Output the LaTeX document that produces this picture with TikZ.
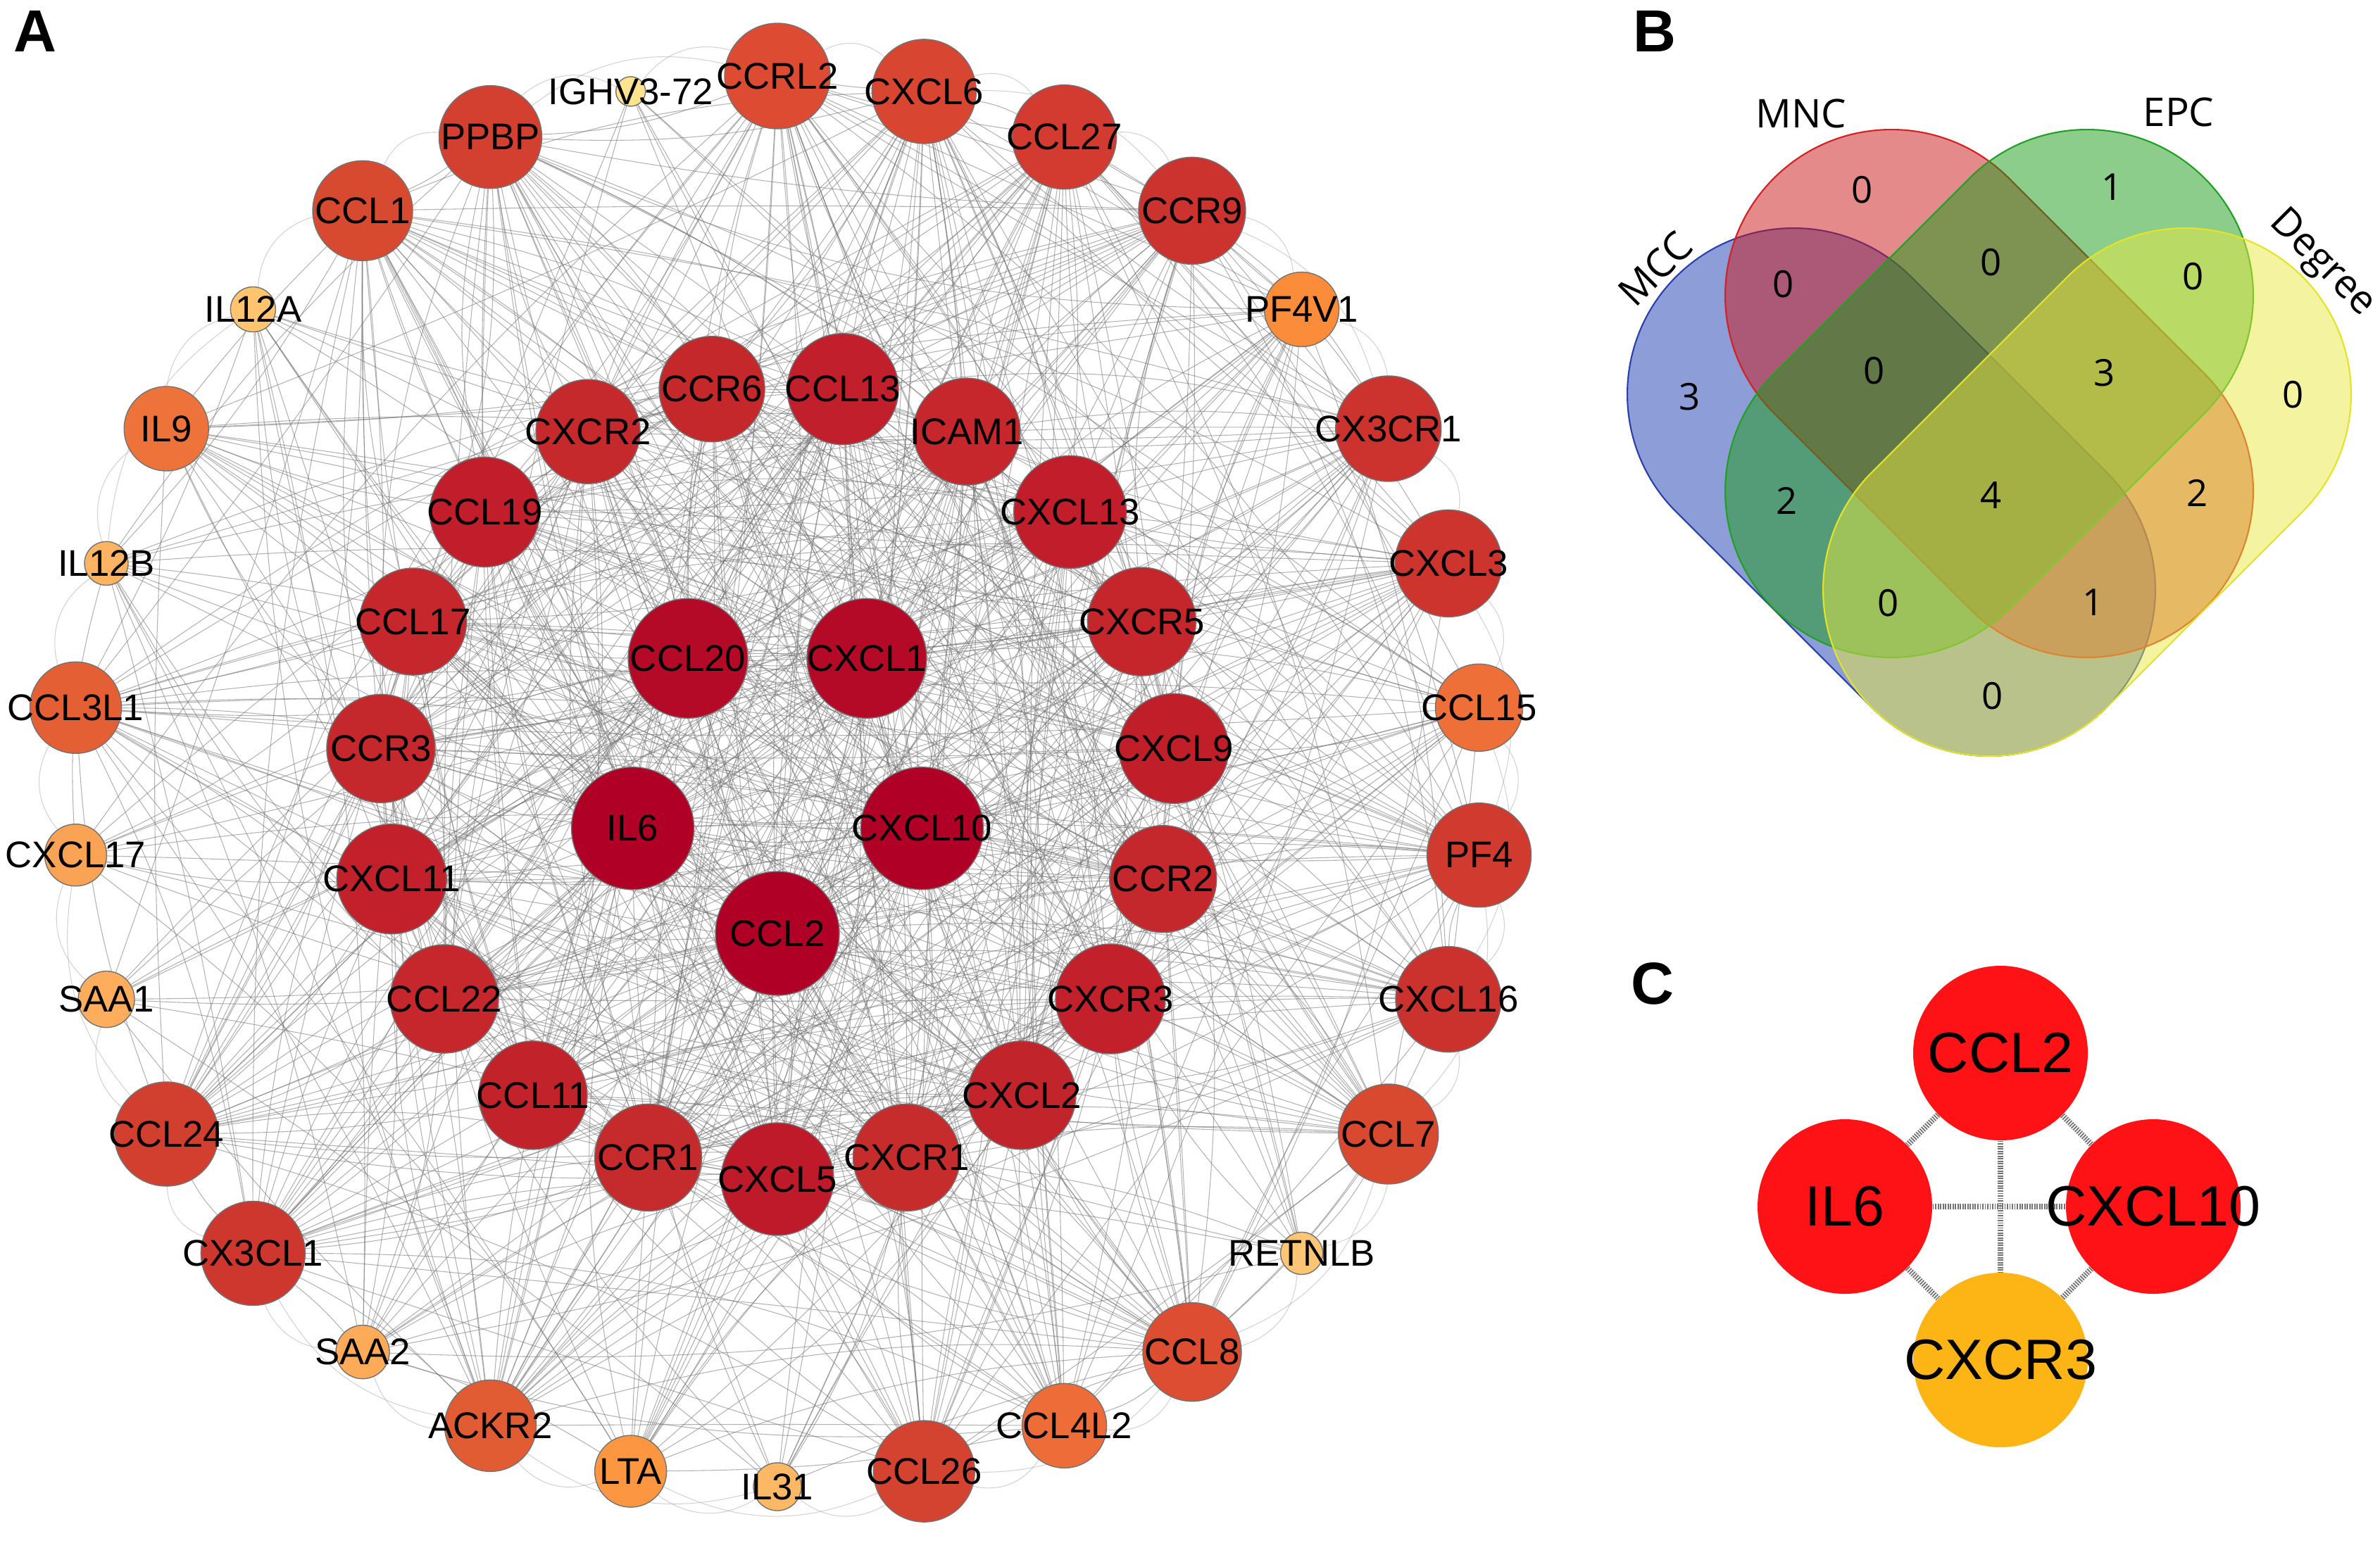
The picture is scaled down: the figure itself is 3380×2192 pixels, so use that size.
\documentclass[tikz,border=0pt]{standalone}
\usepackage{fontspec}
\setmainfont{Liberation Sans}
\newfontfamily\vennfont{Open Sans}
\usetikzlibrary{backgrounds}

\newcommand{\ncx}{1104}
\newcommand{\ncy}{1110}

\definecolor{mccfill}{HTML}{1A3CAF}
\definecolor{mncfill}{HTML}{CA1616}
\definecolor{epcfill}{HTML}{1A9B1A}
\definecolor{degfill}{HTML}{E8E842}
\definecolor{mccline}{HTML}{2A3FAF}
\definecolor{mncline}{HTML}{D42020}
\definecolor{epcline}{HTML}{20A020}
\definecolor{degline}{HTML}{E4E424}
\definecolor{hubred}{HTML}{FF1216}
\definecolor{hubgold}{HTML}{FDB515}

\tikzset{
  gene/.style={circle, draw=black!55, line width=0.4pt, inner sep=0pt, outer sep=0pt},
  genelabel/.style={font=\fontsize{15}{15}\selectfont, inner sep=0pt},
  ppi/.style={draw=black!55, line width=0.3pt, opacity=0.55},
  ppiarc/.style={draw=black!35, line width=0.3pt, opacity=0.5},
  panel/.style={font=\fontsize{24}{24}\selectfont\bfseries},
  venn/.style={rectangle, minimum width=86.5mm, minimum height=47.2mm, rounded corners=23.6mm, line width=0.6pt, fill opacity=0.5},
  vennnum/.style={font=\vennfont\fontsize{15}{15}\selectfont},
  vennset/.style={font=\vennfont\fontsize{16}{16}\selectfont},
  hub/.style={circle, minimum size=24.8mm, inner sep=0pt},
  hublabel/.style={font=\fontsize{23}{23}\selectfont, inner sep=0pt},
  hubedge/.style={draw=black!55, line width=2.4pt, dash pattern=on 0.5pt off 0.5pt},
}

\begin{document}
\begin{tikzpicture}[x=0.1mm, y=-0.1mm]
  \useasboundingbox (0,0) rectangle (3380,2192);
  \pgfmathsetseed{1234}

  % A: PPI network
  \node[panel] (pa) at (50,44) {A};

  \foreach \i/\gene/\a/\r/\hex in {1/CCL20/126/85/B40A28, 2/CXCL1/54/85/B40A28,
      3/CXCL10/-18/87/B00025, 4/CCL2/-90/88/B00025, 5/IL6/198/87/B00025} {
    \definecolor{genefill}{HTML}{\hex}
    \node[gene, fill=genefill, minimum size={0.2mm*\r}, label={[genelabel]center:\gene}]
      (g\i) at ({\ncx+216*cos(\a)}, {\ncy-216*sin(\a)}) {};
    \expandafter\xdef\csname gw\i\endcsname{1}
  }

  \foreach[evaluate={99.47-18.947*\k} as \a, evaluate={int(6+\k)} as \idx]
      \k/\gene/\r/\hex in {0/CCR6/75/C4282B, 1/CCL13/79/C21F2C, 2/ICAM1/76/C5272C,
      3/CXCL13/80/C21D2A, 4/CXCR5/77/C5262B, 5/CXCL9/78/C01F2A, 6/CCR2/76/C5282C,
      7/CXCR3/78/C2202B, 8/CXCL2/77/C2242B, 9/CXCR1/76/C72C2C, 10/CXCL5/80/BE1A29,
      11/CCR1/76/C52A2C, 12/CCL11/77/C2232B, 13/CCL22/77/C5272C, 14/CXCL11/78/C2212B,
      15/CCR3/77/C5282C, 16/CCL17/76/C5272C, 17/CCL19/78/C21D2A, 18/CXCR2/74/C6292C} {
    \definecolor{genefill}{HTML}{\hex}
    \node[gene, fill=genefill, minimum size={0.2mm*\r}, label={[genelabel]center:\gene}]
      (g\idx) at ({\ncx+565*cos(\a)}, {\ncy-565*sin(\a)}) {};
    \expandafter\xdef\csname gw\idx\endcsname{0.97}
  }

  \foreach[evaluate={90-12*\k} as \a, evaluate={int(25+\k)} as \idx]
      \k/\gene/\r/\hex/\w in {0/CCRL2/75/DD4B33/0.85, 1/CXCL6/74/D84530/0.85,
      2/CCL27/74/D33A30/0.85, 3/CCR9/76/CC332E/0.85, 4/PF4V1/53/FB8C3A/0.55,
      5/CX3CR1/75/CC332E/0.85, 6/CXCL3/76/CD342E/0.85, 7/CCL15/62/EE6F37/0.62,
      8/PF4/74/D03A2F/0.85, 9/CXCL16/75/CB322E/0.85, 10/CCL7/71/D84930/0.8,
      11/RETNLB/30/FDC574/0.3, 12/CCL8/70/DC4D32/0.8, 13/CCL4L2/60/EE6C38/0.62,
      14/CCL26/72/D4432F/0.8, 15/IL31/34/FDB865/0.35, 16/LTA/51/FD9640/0.5,
      17/ACKR2/65/E15B33/0.68, 18/SAA2/38/FDAB59/0.4, 19/CX3CL1/74/CE372E/0.85,
      20/CCL24/74/D23F2F/0.85, 21/SAA1/40/FDAD5B/0.4, 22/CXCL17/44/FBA354/0.45,
      23/CCL3L1/65/E45F33/0.68, 24/IL12B/31/FDB462/0.35, 25/IL9/60/EE733A/0.62,
      26/IL12A/32/FEC46E/0.3, 27/CCL1/71/D84A30/0.8, 28/PPBP/73/D34030/0.85,
      29/IGHV3-72/21/FFE38F/0.15} {
    \definecolor{genefill}{HTML}{\hex}
    \node[gene, fill=genefill, minimum size={0.2mm*\r}, label={[genelabel]center:\gene}]
      (g\idx) at ({\ncx+1002*cos(\a)}, {\ncy-1002*sin(\a)}) {};
    \expandafter\xdef\csname gw\idx\endcsname{\w}
  }

  \begin{scope}[on background layer]
    \foreach \i in {1,...,53} {
      \pgfmathtruncatemacro\jst{\i+1}
      \edef\wi{\csname gw\i\endcsname}
      \foreach \j in {\jst,...,54} {
        \edef\wj{\csname gw\j\endcsname}
        \pgfmathsetmacro\p{\wi*\wj}
        \pgfmathsetmacro\u{rnd}
        \pgfmathsetmacro\bnd{12*rand}
        \ifdim\u pt<\p pt \draw[ppi] (g\i) to[bend left=\bnd] (g\j); \fi
      }
    }
    % arcs along the outer ring
    \foreach[evaluate={int(25+\k)} as \ia, evaluate={int(25+mod(\k+1,30))} as \ib,
        evaluate={int(25+mod(\k+2,30))} as \ic] \k in {0,...,29} {
      \draw[ppiarc] (g\ia) to[bend left=35] (g\ib);
      \edef\wi{\csname gw\ia\endcsname}
      \edef\wj{\csname gw\ic\endcsname}
      \pgfmathsetmacro\p{\wi*\wj}
      \pgfmathsetmacro\u{rnd}
      \ifdim\u pt<\p pt \draw[ppiarc] (g\ia) to[bend left=25] (g\ic); \fi
    }
  \end{scope}

  % B: Venn diagram
  \node[panel] (pb) at (2350,44) {B};
  \node[venn, draw=mccline, fill=mccfill, rotate=-45] (mcc) at (2686,699) {};
  \node[venn, draw=mncline, fill=mncfill, rotate=-45] (mnc) at (2825,559) {};
  \node[venn, draw=epcline, fill=epcfill, rotate=45] (epc) at (2825,559) {};
  \node[venn, draw=degline, fill=degfill, rotate=45] (deg) at (2964,699) {};

  \node[vennset, rotate=45] (lmcc) at (2351,382) {MCC};
  \node[vennset] (lmnc) at (2558,161) {MNC};
  \node[vennset] (lepc) at (3094,159) {EPC};
  \node[vennset, rotate=-45] (ldeg) at (3297,375) {Degree};

  \foreach \x/\y/\n in {2645/270/0, 3000/266/1, 2533/404/0, 2828/373/0, 3115/393/0,
      2400/564/3, 2662/527/0, 2989/530/3, 3257/561/0, 2538/711/2, 2828/704/4,
      3121/700/2, 2682/857/0, 2973/856/1, 2830/989/0}
    \node[vennnum] at (\x,\y) {\n};

  % C: hub genes
  \node[panel] (pc) at (2347,1397) {C};
  \node[hub, fill=hubred, label={[hublabel]center:CCL2}] (hccl2) at (2841,1496) {};
  \node[hub, fill=hubred, label={[hublabel]center:IL6}] (hil6) at (2620,1714) {};
  \node[hub, fill=hubred, label={[hublabel]center:CXCL10}] (hcxcl10) at (3058,1714) {};
  \node[hub, fill=hubgold, label={[hublabel]center:CXCR3}] (hcxcr3) at (2841,1932) {};
  \begin{scope}[on background layer]
    \draw[hubedge] (hccl2) -- (hil6);
    \draw[hubedge] (hccl2) -- (hcxcl10);
    \draw[hubedge] (hccl2) -- (hcxcr3);
    \draw[hubedge] (hil6) -- (hcxcl10);
    \draw[hubedge] (hil6) -- (hcxcr3);
    \draw[hubedge] (hcxcl10) -- (hcxcr3);
  \end{scope}
\end{tikzpicture}
\end{document}
